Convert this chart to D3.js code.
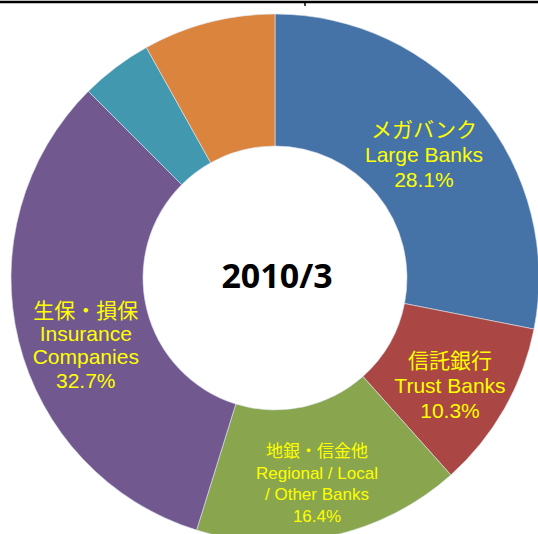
<!DOCTYPE html>
<html>
<head>
<meta charset="utf-8">
<script src="https://cdn.jsdelivr.net/npm/d3@7"></script>
<style>
  body { margin: 0; background: #fff; }
  .label { fill: #ffff00; font-family: "Liberation Sans", Arial, "Noto Sans CJK JP", sans-serif; }
  .title { font-family: "Open Sans", "Noto Sans", sans-serif; font-weight: bold; }
</style>
</head>
<body>
<svg width="538" height="534"></svg>
<script>
  // data
  var categories = ["Large Banks", "Trust Banks", "Regional / Local / Other Banks", "Insurance Companies", "Other A", "Other B"];
  var shares = [28.1, 10.3, 16.4, 32.7, 4.4, 8.1];
  var labelLines = [
    ["メガバンク", "Large Banks", "28.1%"],
    ["信託銀行", "Trust Banks", "10.3%"],
    ["地銀・信金他", "Regional / Local", "/ Other Banks", "16.4%"],
    ["生保・損保", "Insurance", "Companies", "32.7%"],
    [],
    []
  ];
  var colors = ["#4572a7", "#aa4643", "#89a54e", "#71588f", "#4198af", "#db843d"];
  var title = "2010/3";

  // small nudges so labels sit where the original put them
  var nudge = [[-4, 2], [3, 10], [0, 12], [3, 20], [0, 0], [0, 0]];
  var fontSize = [21, 21, 17, 21, 0, 0];
  var lineHeight = [25, 25, 21.7, 23.3, 0, 0];

  var svg = d3.select("svg");
  var cx = 275, cy = 278;
  var outerR = 264, innerR = 132;

  // top rule
  svg.append("line").attr("x1", 0).attr("x2", 538).attr("y1", 2).attr("y2", 2)
    .attr("stroke", "#000").attr("stroke-width", 2.5);
  svg.append("line").attr("x1", 305).attr("x2", 305).attr("y1", 2).attr("y2", 6)
    .attr("stroke", "#000").attr("stroke-width", 1.5);

  var g = svg.append("g").attr("transform", "translate(" + cx + "," + cy + ")");

  var pie = d3.pie().sort(null).value(function (d) { return d; });
  var arc = d3.arc().innerRadius(innerR).outerRadius(outerR);
  var mid = d3.arc().innerRadius((innerR + outerR) / 2).outerRadius((innerR + outerR) / 2);

  var arcs = pie(shares);

  g.selectAll("path.slice")
    .data(arcs)
    .enter().append("path")
    .attr("class", "slice")
    .attr("d", arc)
    .attr("fill", function (d, i) { return colors[i]; })
    .attr("stroke", "#dfe6ee")
    .attr("stroke-width", 0.6);

  // labels
  arcs.forEach(function (d, i) {
    var lines = labelLines[i];
    if (!lines.length) return;
    var c = mid.centroid(d);
    var x = c[0] + nudge[i][0], y = c[1] + nudge[i][1];
    var lh = lineHeight[i], fs = fontSize[i];
    var first = y - (lines.length - 1) * lh / 2 + fs * 0.35;
    var t = g.append("text")
      .attr("class", "label")
      .attr("text-anchor", "middle")
      .style("font-size", fs + "px");
    lines.forEach(function (s, j) {
      t.append("tspan").attr("x", x).attr("y", first + j * lh).text(s);
    });
  });

  // center title
  g.append("text")
    .attr("class", "title")
    .attr("text-anchor", "middle")
    .attr("x", 2)
    .attr("y", 10)
    .style("font-size", "34px")
    .text(title);
</script>
</body>
</html>
